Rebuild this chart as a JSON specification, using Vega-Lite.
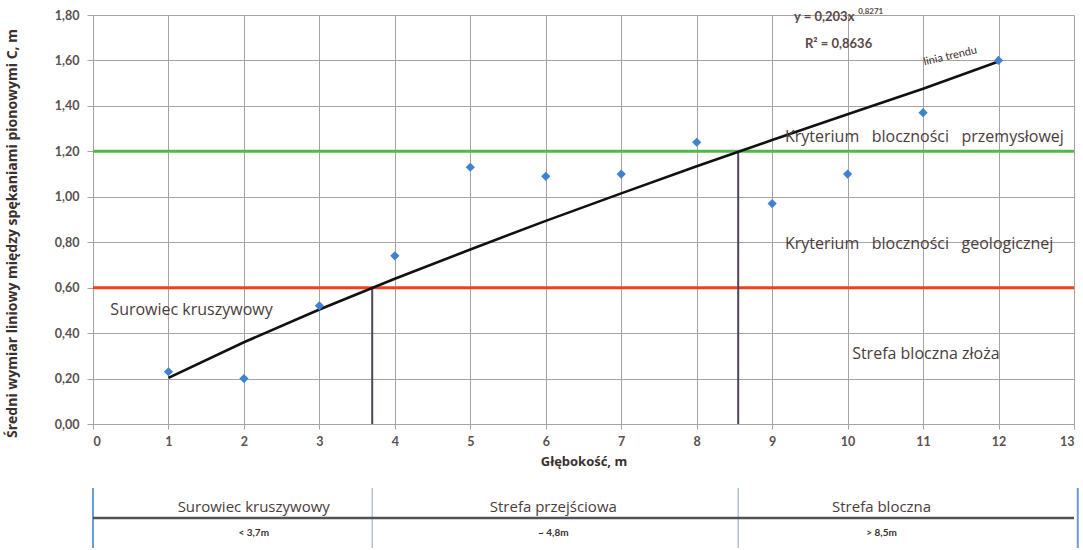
{
  "$schema": "https://vega.github.io/schema/vega-lite/v6.json",
  "padding": {"left": 5, "top": 7, "right": 1, "bottom": 0},
  "background": "white",
  "config": {
    "view": {"stroke": null},
    "font": "Lato",
    "axis": {"labelFont": "Lato", "titleFont": "Open Sans"}
  },
  "datasets": {
    "points": [
      {"x": 1, "y": 0.23}, {"x": 2, "y": 0.2}, {"x": 3, "y": 0.52}, {"x": 4, "y": 0.74},
      {"x": 5, "y": 1.13}, {"x": 6, "y": 1.09}, {"x": 7, "y": 1.1}, {"x": 8, "y": 1.24},
      {"x": 9, "y": 0.97}, {"x": 10, "y": 1.1}, {"x": 11, "y": 1.37}, {"x": 12, "y": 1.6}
    ],
    "trend": [
      {"x": 1, "y": 0.203}, {"x": 2, "y": 0.36}, {"x": 3, "y": 0.504}, {"x": 4, "y": 0.639},
      {"x": 5, "y": 0.768}, {"x": 6, "y": 0.894}, {"x": 7, "y": 1.015}, {"x": 8, "y": 1.134},
      {"x": 9, "y": 1.25}, {"x": 10, "y": 1.363}, {"x": 11, "y": 1.475}, {"x": 12, "y": 1.595}
    ],
    "hlines": [
      {"y": 1.2, "kind": "przemysłowa"},
      {"y": 0.6, "kind": "geologiczna"}
    ],
    "vlines": [
      {"x": 3.7, "y": 0, "y2": 0.6},
      {"x": 8.55, "y": 0, "y2": 1.2}
    ],
    "labels": [
      {"x": 9.17, "y": 1.265, "text": "Kryterium\u00a0\u00a0 bloczności\u00a0\u00a0 przemysłowej"},
      {"x": 9.17, "y": 0.792, "text": "Kryterium\u00a0\u00a0 bloczności\u00a0\u00a0 geologicznej"},
      {"x": 10.06, "y": 0.308, "text": "Strefa bloczna złoża"},
      {"x": 0.23, "y": 0.5, "text": "Surowiec kruszywowy"}
    ],
    "eq": [
      {"x": 9.69, "y": 1.79, "text": "y = 0,203x"},
      {"x": 9.88, "y": 1.672, "text": "R² = 0,8636"}
    ],
    "sup": [
      {"x": 10.14, "y": 1.815, "text": "0,8271"}
    ],
    "trendLabel": [
      {"x": 11.36, "y": 1.618, "text": "linia trendu"}
    ],
    "zoneLines": [
      {"x": 0, "c": "edge"}, {"x": 3.7, "c": "mid"}, {"x": 8.55, "c": "mid"}, {"x": 13.05, "c": "edge"}
    ],
    "zones": [
      {"x": 2.13, "name": "Surowiec kruszywowy", "range": "< 3,7m"},
      {"x": 6.1, "name": "Strefa przejściowa", "range": "~ 4,8m"},
      {"x": 10.45, "name": "Strefa bloczna", "range": "> 8,5m"}
    ],
    "mid": [{"y": 0.5}]
  },
  "spacing": 18,
  "resolve": {"scale": {"color": "independent", "strokeWidth": "independent", "x": "independent", "y": "independent"}},
  "vconcat": [
    {
      "width": 981,
      "height": 409,
      "layer": [
        {
          "data": {"name": "hlines"},
          "mark": {"type": "rule", "strokeWidth": 3},
          "encoding": {
            "x": {"datum": 0, "type": "quantitative",
              "scale": {"domain": [0, 13], "nice": false},
              "axis": {
                "values": [0,1,2,3,4,5,6,7,8,9,10,11,12,13],
                "format": "d",
                "title": "Głębokość, m",
                "titleFontSize": 13, "titleFontWeight": "bold", "titleColor": "#3a3030",
                "titlePadding": 8,
                "labelFontSize": 12.5, "labelFontWeight": "bold", "labelColor": "#5a5050",
                "labelPadding": 6,
                "grid": true, "gridColor": "#a8a2a2", "gridWidth": 1,
                "domainColor": "#a8a2a2", "tickColor": "#a8a2a2", "tickSize": 5
              }
            },
            "x2": {"datum": 13},
            "y": {"field": "y", "type": "quantitative",
              "scale": {"domain": [0, 1.8], "nice": false},
              "axis": {
                "values": [0, 0.2, 0.4, 0.6, 0.8, 1.0, 1.2, 1.4, 1.6, 1.8],
                "labelExpr": "replace(format(datum.value, '.2f'), '.', ',')",
                "title": "Średni wymiar liniowy między spękaniami pionowymi C, m",
                "titleFontSize": 14, "titleFontWeight": "bold", "titleColor": "#3a3030",
                "titlePadding": 35,
                "titleY": 218,
                "labelFontSize": 12.5, "labelFontWeight": "bold", "labelColor": "#5a5050",
                "labelPadding": 8,
                "grid": true, "gridColor": "#a8a2a2", "gridWidth": 1,
                "domainColor": "#a8a2a2", "tickColor": "#a8a2a2", "tickSize": 6
              }
            },
            "color": {"field": "kind", "type": "nominal", "scale": {"domain": ["przemysłowa", "geologiczna"], "range": ["#52b848", "#f0401e"]}, "legend": null}
          }
        },
        {
          "data": {"name": "vlines"},
          "mark": {"type": "rule", "strokeWidth": 2, "color": "#4e4658"},
          "encoding": {
            "x": {"field": "x", "type": "quantitative"},
            "y": {"field": "y", "type": "quantitative"},
            "y2": {"field": "y2"}
          }
        },
        {
          "data": {"name": "trend"},
          "mark": {"type": "line", "strokeWidth": 2.6, "color": "#111111"},
          "encoding": {
            "x": {"field": "x", "type": "quantitative"},
            "y": {"field": "y", "type": "quantitative"}
          }
        },
        {
          "data": {"name": "points"},
          "mark": {"type": "point", "shape": "diamond", "filled": true, "size": 85, "color": "#3f82cf", "opacity": 1},
          "encoding": {
            "x": {"field": "x", "type": "quantitative"},
            "y": {"field": "y", "type": "quantitative"}
          }
        },
        {
          "data": {"name": "labels"},
          "mark": {"type": "text", "align": "left", "baseline": "middle", "fontSize": 16, "font": "Open Sans", "color": "#4a3c3c"},
          "encoding": {
            "x": {"field": "x", "type": "quantitative"},
            "y": {"field": "y", "type": "quantitative"},
            "text": {"field": "text"}
          }
        },
        {
          "data": {"name": "eq"},
          "mark": {"type": "text", "align": "center", "baseline": "middle", "fontSize": 13, "fontWeight": "bold", "color": "#5a4848"},
          "encoding": {
            "x": {"field": "x", "type": "quantitative"},
            "y": {"field": "y", "type": "quantitative"},
            "text": {"field": "text"}
          }
        },
        {
          "data": {"name": "sup"},
          "mark": {"type": "text", "align": "left", "baseline": "middle", "fontSize": 8, "fontWeight": "bold", "color": "#5a4848"},
          "encoding": {
            "x": {"field": "x", "type": "quantitative"},
            "y": {"field": "y", "type": "quantitative"},
            "text": {"field": "text"}
          }
        },
        {
          "data": {"name": "trendLabel"},
          "mark": {"type": "text", "align": "center", "baseline": "middle", "fontSize": 11, "angle": 347, "color": "#3a3030"},
          "encoding": {
            "x": {"field": "x", "type": "quantitative"},
            "y": {"field": "y", "type": "quantitative"},
            "text": {"field": "text"}
          }
        }
      ]
    },
    {
      "width": 981,
      "height": 60,
      "layer": [
        {
          "data": {"name": "zoneLines"},
          "mark": {"type": "rule"},
          "encoding": {
            "x": {"field": "x", "type": "quantitative", "scale": {"domain": [0, 13], "nice": false}, "axis": null},
            "y": {"datum": 0, "type": "quantitative", "scale": {"domain": [0, 1]}, "axis": null},
            "y2": {"datum": 1},
            "color": {"field": "c", "type": "nominal", "scale": {"domain": ["edge", "mid"], "range": ["#6f9bd4", "#a3b3cc"]}, "legend": null},
            "strokeWidth": {"field": "c", "type": "nominal", "scale": {"domain": ["edge", "mid"], "range": [2, 1.2]}, "legend": null}
          }
        },
        {
          "data": {"name": "mid"},
          "mark": {"type": "rule", "strokeWidth": 2.5, "color": "#54505a"},
          "encoding": {
            "y": {"field": "y", "type": "quantitative"}
          }
        },
        {
          "data": {"name": "zones"},
          "mark": {"type": "text", "align": "center", "baseline": "middle", "fontSize": 15, "font": "Open Sans", "color": "#4a3c3c"},
          "encoding": {
            "x": {"field": "x", "type": "quantitative"},
            "y": {"datum": 0.68, "type": "quantitative"},
            "text": {"field": "name"}
          }
        },
        {
          "data": {"name": "zones"},
          "mark": {"type": "text", "align": "center", "baseline": "middle", "fontSize": 10, "fontWeight": "bold", "color": "#3a3030"},
          "encoding": {
            "x": {"field": "x", "type": "quantitative"},
            "y": {"datum": 0.25, "type": "quantitative"},
            "text": {"field": "range"}
          }
        }
      ]
    }
  ]
}
